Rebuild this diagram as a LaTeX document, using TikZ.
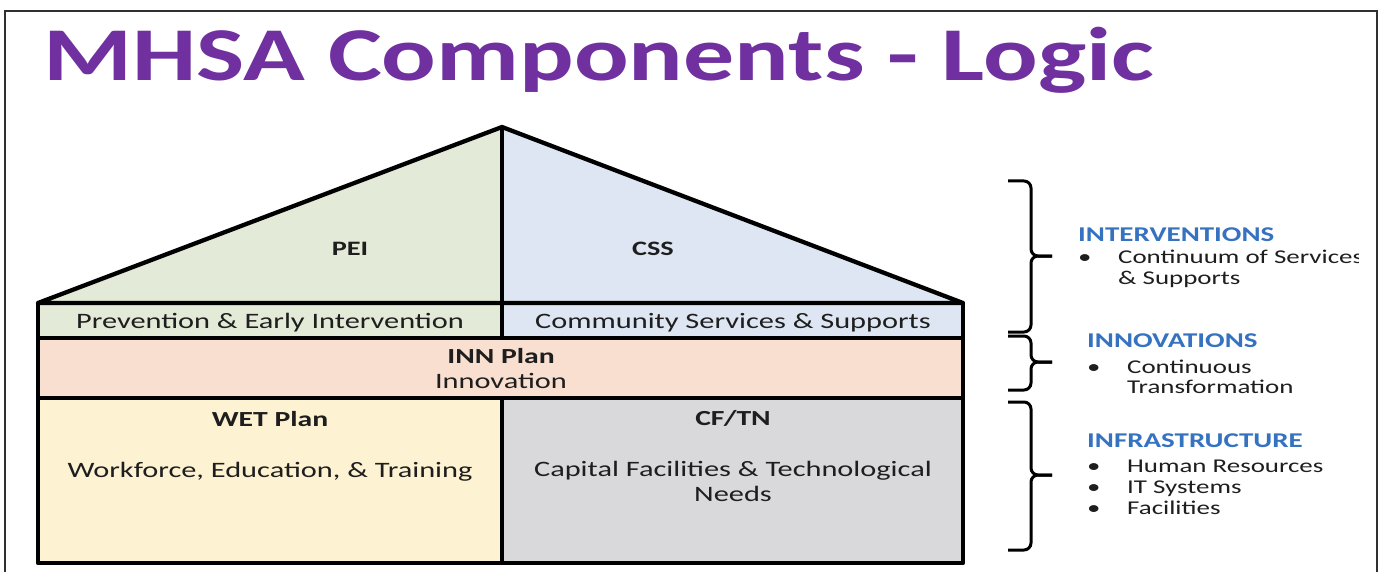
\documentclass[tikz,border=0pt]{standalone}
\usepackage{fontspec}
\usetikzlibrary{calc}
\setmainfont{Carlito}[FakeStretch=1.38]
\newfontfamily\titlefont{Carlito}[FakeStretch=1.34]
\definecolor{titlepurple}{HTML}{7030A0}
\definecolor{headblue}{HTML}{3572C0}
\definecolor{txt}{HTML}{1E1E1E}
\definecolor{peigreen}{HTML}{E3EAD7}
\definecolor{cssblue}{HTML}{DDE6F2}
\definecolor{innpeach}{HTML}{F9DFD0}
\definecolor{wetyellow}{HTML}{FDF2D2}
\definecolor{cfgray}{HTML}{D9D9DB}
\definecolor{framegray}{HTML}{303030}
\tikzset{
  house/.style={draw=black, line width=4.3pt, line join=round},
  lbl/.style={font=\fontsize{22}{25}\selectfont, text=txt, inner sep=0pt, anchor=base},
  blbl/.style={font=\fontsize{21.5}{25}\selectfont\bfseries, text=txt, inner sep=0pt, anchor=base},
  rooflbl/.style={font=\fontsize{20.5}{24}\selectfont\bfseries, text=txt, inner sep=0pt, anchor=base},
  head/.style={font=\fontsize{21}{24}\selectfont\bfseries, text=headblue, inner sep=0pt, anchor=base west},
  item/.style={font=\fontsize{19.5}{23}\selectfont, text=txt, inner sep=0pt, anchor=base west},
  bracket/.style={draw=black, line width=3pt, rounded corners=7pt},
  frameline/.style={draw=framegray, line width=1.5pt},
}
\begin{document}
\begin{tikzpicture}[x=1pt,y=-1pt]
\useasboundingbox (0,0) rectangle (1384,572);
\fill[white] (0,0) rectangle (1384,572);
% frame
\draw[frameline] (5,575) -- (5,11) -- (1377,11) -- (1377,575);
% title
\node[font=\titlefont\fontsize{76}{80}\selectfont\bfseries, text=titlepurple, inner sep=0pt, anchor=base west] (title) at (43,81) {MHSA Components - Logic};
% house geometry
\coordinate (apex) at (502,127);
\coordinate (lc) at (38,303);
\coordinate (rc) at (963,303);
\fill[peigreen] (lc) -- (apex) -- (502,338) -- (38,338) -- cycle;
\fill[cssblue] (apex) -- (rc) -- (963,338) -- (502,338) -- cycle;
\fill[innpeach] (38,338) rectangle (963,398);
\fill[wetyellow] (38,398) rectangle (502,563);
\fill[cfgray] (502,398) rectangle (963,563);
\draw[house] (lc) -- (apex) -- (rc) -- cycle;
\draw[house] (apex) -- (502,338);
\draw[house] (38,303) rectangle (963,563);
\draw[house] (38,338) -- (963,338);
\draw[house] (38,398) -- (963,398);
\draw[house] (502,398) -- (502,563);
% texts
\node[rooflbl] (pei) at (350,255) {PEI};
\node[rooflbl] (css) at (653,255) {CSS};
\node[lbl] (pei2) at (270,328) {Prevention \& Early Intervention};
\node[lbl] (css2) at (733,328) {Community Services \& Supports};
\node[blbl] (inn) at (501,363) {INN Plan};
\node[lbl] (inn2) at (501,388) {Innovation};
\node[blbl] (wet) at (270,426) {WET Plan};
\node[lbl] (wet2) at (270,477) {Workforce, Education, \& Training};
\node[blbl] (cf) at (733,425) {CF/TN};
\node[lbl] (cf2) at (733,476) {Capital Facilities \& Technological};
\node[lbl] (cf3) at (733,501) {Needs};
% brackets
\coordinate (b1t) at (1008,181); \coordinate (b1m) at (1031,256); \coordinate (b1b) at (1008,332);
\coordinate (b2t) at (1008,336); \coordinate (b2m) at (1031,362); \coordinate (b2b) at (1008,390);
\coordinate (b3t) at (1008,402); \coordinate (b3m) at (1031,475); \coordinate (b3b) at (1008,550);
\foreach \t/\m/\b in {b1t/b1m/b1b, b2t/b2m/b2b, b3t/b3m/b3b}{
  \draw[bracket] (\t) -- (\m |- \t) -- (\m) -- ++(21,0);
  \draw[bracket] ($(\m)+(21,0)$) -- (\m) -- (\m |- \b) -- (\b);
}
% right texts
\node[head] (h1) at (1078,241) {INTERVENTIONS};
\node[item] (bul1) at (1078,263) {•};
\begin{scope}
\clip (1000,240) rectangle (1358,290);
\node[item] (i1) at (1118,263) {Continuum of Services};
\end{scope}
\node[item] (i1b) at (1118,284) {\& Supports};
\node[head] (h2) at (1087,347) {INNOVATIONS};
\node[item] (bul2) at (1087,373) {•};
\node[item] (i2) at (1127,373) {Continuous};
\node[item] (i2b) at (1127,393) {Transformation};
\node[head] (h3) at (1087,447) {INFRASTRUCTURE};
\node[item] (bul3) at (1087,472) {•};
\node[item] (i3) at (1127,472) {Human Resources};
\node[item] (bul4) at (1087,493) {•};
\node[item] (i4) at (1127,493) {IT Systems};
\node[item] (bul5) at (1087,514) {•};
\node[item] (i5) at (1127,514) {Facilities};
\end{tikzpicture}
\end{document}
